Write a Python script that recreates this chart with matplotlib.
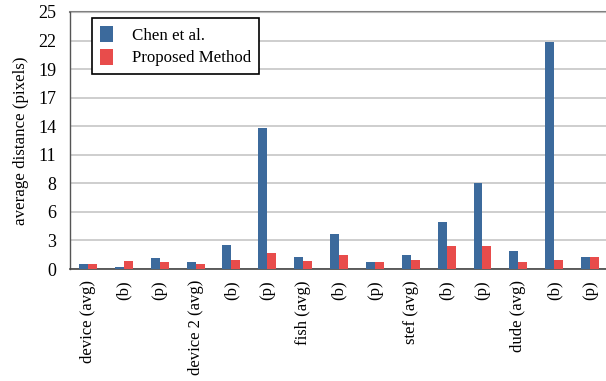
import numpy as np
import matplotlib
matplotlib.use("Agg")
import matplotlib.pyplot as plt
from matplotlib.patches import Patch

categories = ["device (avg)", "(b)", "(p)", "device 2 (avg)", "(b)", "(p)",
              "fish (avg)", "(b)", "(p)", "stef (avg)", "(b)", "(p)",
              "dude (avg)", "(b)", "(p)"]
chen = [0.5, 0.17, 1.07, 0.68, 2.33, 13.75, 1.17, 3.4, 0.68, 1.36, 4.57, 8.35, 1.75, 22.05, 1.17]
proposed = [0.5, 0.78, 0.68, 0.49, 0.88, 1.56, 0.78, 1.36, 0.68, 0.88, 2.24, 2.24, 0.68, 0.88, 1.17]
ytick_labels = ["0", "3", "6", "8", "11", "14", "17", "19", "22", "25"]

BLUE = "#3c6a9c"
RED = "#e84c4b"

plt.rcParams["font.family"] = ["Liberation Serif", "DejaVu Serif"]

fig = plt.figure(figsize=(6.06, 3.81), dpi=100)
ax = fig.add_axes([70 / 606, 1 - 269 / 381, 538 / 606, 257 / 381])

x = np.arange(len(categories))
w = 0.25
ax.bar(x - w / 2, chen, width=w, color=BLUE, zorder=3, label="Chen et al.")
ax.bar(x + w / 2, proposed, width=w, color=RED, zorder=3, label="Proposed Method")

ymax = 25
ax.set_ylim(0, ymax)
ax.set_xlim(-0.5, len(categories) - 0.5)
ax.set_yticks(np.linspace(0, ymax, len(ytick_labels)))
ax.set_yticklabels(ytick_labels, fontsize=13)
ax.set_xticks(x)
ax.set_xticklabels(categories, rotation=90, fontsize=12)
ax.tick_params(axis="both", length=0)
ax.tick_params(axis="y", pad=10)
ax.tick_params(axis="x", pad=8)

ax.grid(axis="y", color="#c6c6c6", linewidth=1.2, zorder=0)
for side in ["top", "right"]:
    ax.spines[side].set_visible(False)
ax.spines["left"].set_color("#555555")
ax.spines["bottom"].set_color("#444444")
ax.spines["left"].set_linewidth(1.0)
ax.spines["bottom"].set_linewidth(1.2)
ax.axhline(ymax, color="#808080", linewidth=1.5, zorder=1, clip_on=False)

ax.set_ylabel("average distance (pixels)", fontsize=12.2)
ax.yaxis.set_label_coords(-(70 - 29) / 538, 0.5)

handles = [Patch(facecolor=BLUE, edgecolor="none"), Patch(facecolor=RED, edgecolor="none")]
leg = ax.legend(handles, ["Chen et al.", "Proposed Method"], loc="upper left",
                bbox_to_anchor=(22 / 538, 1 - 6 / 257), fontsize=12.2,
                frameon=True, fancybox=False, framealpha=1, edgecolor="black",
                handlelength=0.8, handleheight=1.1, handletextpad=1.1,
                borderpad=0.45, labelspacing=0.3, borderaxespad=0)
leg.get_frame().set_linewidth(1.2)

fig.savefig("out.png", dpi=100)
